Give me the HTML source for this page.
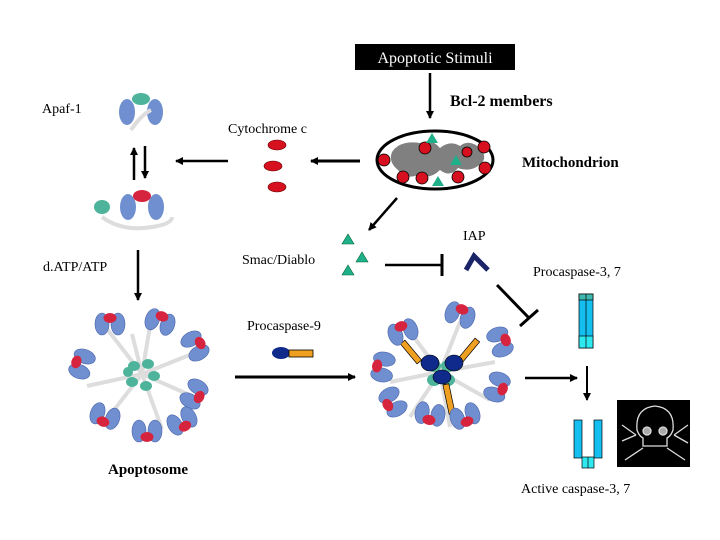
<!DOCTYPE html>
<html><head><meta charset="utf-8"><style>
html,body{margin:0;padding:0;background:#fff;}
svg{display:block;}
text{font-family:"Liberation Serif",serif;}
</style></head><body>
<svg width="720" height="540" viewBox="0 0 720 540" xmlns="http://www.w3.org/2000/svg">
<defs>
<marker id="ah" markerWidth="8" markerHeight="8" refX="7" refY="4" orient="auto" markerUnits="userSpaceOnUse"><path d="M0,0 L8,4 L0,8 z" fill="#000"/></marker>
<g id="unit"><ellipse cx="-8" cy="0" rx="7" ry="11" fill="#6f8fd0" stroke="#4a64a8" stroke-width="0.6"/><ellipse cx="8" cy="0" rx="7" ry="11" fill="#6f8fd0" stroke="#4a64a8" stroke-width="0.6"/><ellipse cx="0" cy="-6" rx="6.5" ry="5" fill="#d6243e"/></g>
</defs>
<rect width="720" height="540" fill="#fff"/>
<rect x="355" y="44" width="160" height="26" fill="#000"/>
<text x="435" y="63" font-size="16" fill="#fff" text-anchor="middle">Apoptotic Stimuli</text>
<line x1="430" y1="73" x2="430" y2="118" stroke="#000" stroke-width="2.5" marker-end="url(#ah)"/>
<text x="450" y="106" font-size="16" font-weight="bold">Bcl-2 members</text>
<text x="42" y="113" font-size="14">Apaf-1</text>
<text x="228" y="133" font-size="14">Cytochrome c</text>
<ellipse cx="435" cy="160" rx="58" ry="29" fill="#fff" stroke="#000" stroke-width="3"/>
<path d="M392,152 Q400,140 420,143 Q432,138 440,148 Q450,140 460,146 Q470,138 482,150 Q488,160 478,166 Q470,172 458,168 Q450,178 440,170 Q430,180 418,175 Q405,180 398,170 Q388,162 392,152z" fill="#808080"/>
<g fill="#d6101e" stroke="#000" stroke-width="0.8">
<circle cx="425" cy="148" r="6"/><circle cx="484" cy="147" r="6"/><circle cx="384" cy="160" r="6"/><circle cx="485" cy="168" r="6"/><circle cx="403" cy="177" r="6"/><circle cx="422" cy="178" r="6"/><circle cx="458" cy="177" r="6"/><circle cx="467" cy="152" r="5"/></g>
<g fill="#20b089"><path d="M432,133 l6,10 h-12z"/><path d="M456,155 l6,10 h-12z"/><path d="M438,176 l6,10 h-12z"/></g>
<text x="522" y="167" font-size="15" font-weight="bold">Mitochondrion</text>
<line x1="360" y1="161" x2="311" y2="161" stroke="#000" stroke-width="3" marker-end="url(#ah)"/>
<line x1="228" y1="161" x2="176" y2="161" stroke="#000" stroke-width="2.5" marker-end="url(#ah)"/>
<g fill="#d6101e" stroke="#600" stroke-width="0.6"><ellipse cx="277" cy="145" rx="9" ry="5"/><ellipse cx="273" cy="166" rx="9" ry="5"/><ellipse cx="277" cy="187" rx="9" ry="5"/></g>
<g transform="translate(141,112)"><ellipse cx="-14" cy="0" rx="8" ry="13" fill="#6f8fd0"/><ellipse cx="14" cy="0" rx="8" ry="13" fill="#6f8fd0"/><ellipse cx="0" cy="-13" rx="9" ry="6" fill="#4db39a"/><path d="M-10,18 q10,-15 20,-20" stroke="#ddd" stroke-width="4" fill="none"/></g>
<line x1="134" y1="180" x2="134" y2="148" stroke="#000" stroke-width="2.5" marker-end="url(#ah)"/>
<line x1="145" y1="146" x2="145" y2="178" stroke="#000" stroke-width="2.5" marker-end="url(#ah)"/>
<g transform="translate(142,207)"><path d="M-40,10 q20,15 50,10 q20,-3 20,-10" stroke="#ddd" stroke-width="4" fill="none"/><ellipse cx="-14" cy="0" rx="8" ry="13" fill="#6f8fd0"/><ellipse cx="14" cy="0" rx="8" ry="13" fill="#6f8fd0"/><ellipse cx="0" cy="-11" rx="9" ry="6" fill="#d6243e"/><ellipse cx="-40" cy="0" rx="8" ry="7" fill="#4db39a"/></g>
<line x1="397" y1="198" x2="369" y2="230" stroke="#000" stroke-width="2.5" marker-end="url(#ah)"/>
<g fill="#20b089" stroke="#063" stroke-width="0.6"><path d="M348,234 l6,10 h-12z"/><path d="M362,252 l6,10 h-12z"/><path d="M348,265 l6,10 h-12z"/></g>
<text x="242" y="264" font-size="14">Smac/Diablo</text>
<text x="463" y="240" font-size="14">IAP</text>
<text x="43" y="271" font-size="14">d.ATP/ATP</text>
<text x="533" y="276" font-size="14">Procaspase-3, 7</text>
<line x1="385" y1="265" x2="441" y2="265" stroke="#000" stroke-width="2.5"/>
<line x1="442" y1="254" x2="442" y2="276" stroke="#000" stroke-width="3"/>
<path d="M466,270 L474,256 L488,270" stroke="#1a2466" stroke-width="5" fill="none"/>
<line x1="497" y1="285" x2="529" y2="318" stroke="#000" stroke-width="3"/>
<line x1="520" y1="326" x2="538" y2="310" stroke="#000" stroke-width="3"/>
<line x1="138" y1="250" x2="138" y2="300" stroke="#000" stroke-width="2.5" marker-end="url(#ah)"/>
<g transform="translate(142,374)">
<g stroke="#ddd" stroke-width="4" fill="none"><path d="M0,0 L-35,-45"/><path d="M0,0 L10,-60"/><path d="M0,0 L50,-20"/><path d="M0,0 L-55,12"/><path d="M0,0 L50,22"/><path d="M0,0 L-35,45"/><path d="M0,0 L20,55"/><path d="M0,0 L-10,-40"/></g>
<g fill="#4db39a"><ellipse cx="-8" cy="-8" rx="6" ry="5"/><ellipse cx="6" cy="-10" rx="6" ry="5"/><ellipse cx="12" cy="2" rx="6" ry="5"/><ellipse cx="4" cy="12" rx="6" ry="5"/><ellipse cx="-10" cy="8" rx="6" ry="5"/><ellipse cx="-14" cy="-2" rx="5" ry="5"/></g>
<use href="#unit" transform="translate(-32,-50)"/><use href="#unit" transform="translate(18,-52) rotate(20)"/><use href="#unit" transform="translate(53,-28) rotate(60)"/><use href="#unit" transform="translate(-60,-10) rotate(-70)"/><use href="#unit" transform="translate(52,20) rotate(120)"/><use href="#unit" transform="translate(-37,42) rotate(200)"/><use href="#unit" transform="translate(5,57) rotate(180)"/><use href="#unit" transform="translate(40,47) rotate(150)"/>
</g>
<text x="247" y="330" font-size="14">Procaspase-9</text>
<ellipse cx="281" cy="353" rx="9" ry="6" fill="#0f2a8a"/>
<rect x="289" y="350" width="24" height="7" fill="#f0a020" stroke="#000" stroke-width="0.8"/>
<line x1="235" y1="377" x2="355" y2="377" stroke="#000" stroke-width="3" marker-end="url(#ah)"/>
<g transform="translate(440,372)">
<g stroke="#ddd" stroke-width="4" fill="none"><path d="M0,0 L-30,-40"/><path d="M0,0 L20,-50"/><path d="M0,0 L55,-10"/><path d="M0,0 L-50,10"/><path d="M0,0 L50,28"/><path d="M0,0 L-30,45"/><path d="M0,0 L10,55"/></g>
<g fill="#4db39a"><ellipse cx="-6" cy="-6" rx="7" ry="6"/><ellipse cx="8" cy="-6" rx="7" ry="6"/><ellipse cx="8" cy="8" rx="7" ry="6"/><ellipse cx="-6" cy="8" rx="7" ry="6"/></g>
<g stroke="#000" stroke-width="0.7" fill="#f0a020"><rect x="-32" y="-33" width="6" height="26" transform="rotate(-40 -29 -20)"/><rect x="26" y="-35" width="6" height="26" transform="rotate(40 29 -22)"/><rect x="6" y="12" width="6" height="30" transform="rotate(-12 9 27)"/></g>
<g fill="#0f2a8a" stroke="#000" stroke-width="0.6"><ellipse cx="-10" cy="-9" rx="9" ry="8"/><ellipse cx="14" cy="-9" rx="9" ry="8"/><ellipse cx="2" cy="5" rx="9" ry="7"/></g>
<use href="#unit" transform="translate(-37,-40) rotate(-20)"/><use href="#unit" transform="translate(20,-57) rotate(20)"/><use href="#unit" transform="translate(60,-30) rotate(70)"/><use href="#unit" transform="translate(-57,-5) rotate(-80)"/><use href="#unit" transform="translate(57,15) rotate(110)"/><use href="#unit" transform="translate(-47,30) rotate(-120)"/><use href="#unit" transform="translate(-10,42) rotate(190)"/><use href="#unit" transform="translate(25,44) rotate(160)"/>
</g>
<line x1="525" y1="378" x2="577" y2="378" stroke="#000" stroke-width="2.5" marker-end="url(#ah)"/>
<rect x="579" y="294" width="14" height="54" fill="#14bff0" stroke="#000" stroke-width="0.7"/>
<rect x="579" y="294" width="14" height="6" fill="#3fb8b0" stroke="#000" stroke-width="0.7"/>
<rect x="579" y="336" width="14" height="12" fill="#2ee8f0" stroke="#000" stroke-width="0.7"/>
<line x1="586" y1="294" x2="586" y2="348" stroke="#000" stroke-width="0.7"/>
<line x1="587" y1="366" x2="587" y2="400" stroke="#000" stroke-width="2" marker-end="url(#ah)"/>
<rect x="574" y="420" width="8" height="38" fill="#14bff0" stroke="#000" stroke-width="0.7"/>
<rect x="594" y="420" width="8" height="38" fill="#14bff0" stroke="#000" stroke-width="0.7"/>
<rect x="582" y="457" width="12" height="11" fill="#2ee8f0" stroke="#000" stroke-width="0.7"/>
<line x1="588" y1="457" x2="588" y2="468" stroke="#000" stroke-width="0.7"/>
<rect x="617" y="400" width="73" height="67" fill="#000"/>
<g stroke="#ddd" stroke-width="1.3" fill="none">
<path d="M637,430 q-2,-22 18,-24 q20,2 18,24 q-2,6 -6,8 v8 h-24 v-8 q-4,-2 -6,-8z"/>
<circle cx="647" cy="431" r="4" fill="#aaa"/><circle cx="663" cy="431" r="4" fill="#aaa"/>
<path d="M622,425 l14,10 M636,435 l-14,6"/><path d="M688,425 l-14,10 M674,435 l14,8"/>
<path d="M625,460 l18,-12 M685,460 l-18,-12"/>
</g>
<text x="108" y="474" font-size="15" font-weight="bold">Apoptosome</text>
<text x="521" y="493" font-size="14">Active caspase-3, 7</text>
</svg>
</body></html>
